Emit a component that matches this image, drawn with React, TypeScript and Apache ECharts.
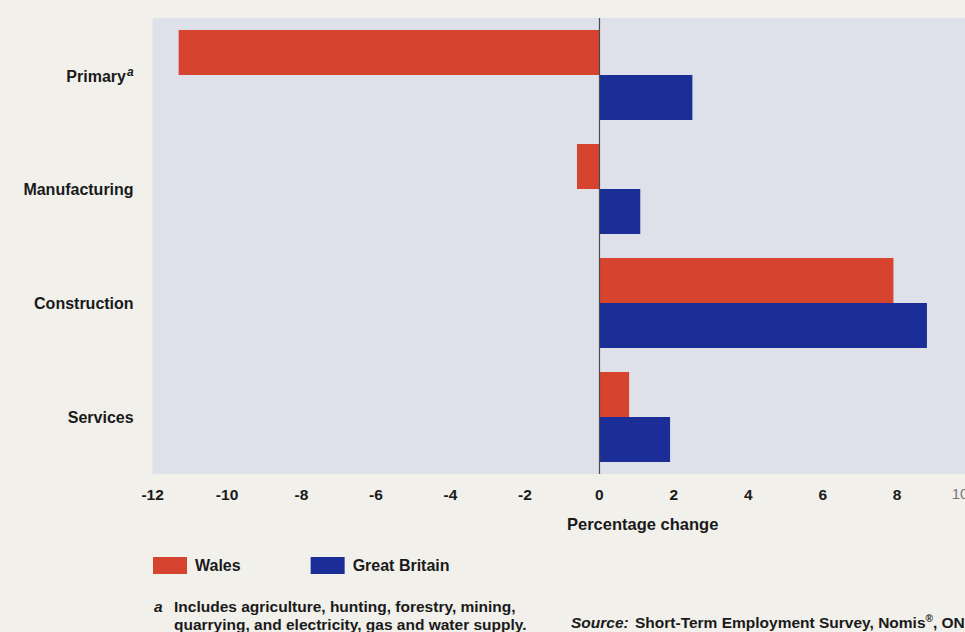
import React, { useEffect, useRef } from "react";
import * as echarts from "echarts";

const categories = ["Primary", "Manufacturing", "Construction", "Services"];
const walesValues = [-11.3, -0.6, 7.9, 0.8];
const gbValues = [2.5, 1.1, 8.8, 1.9];
const seriesNames = ["Wales", "Great Britain"];
const xTicks = { min: -12, max: 10, interval: 2 };

const RED = "#d6432e";
const BLUE = "#1b2d96";
const SANS = "'Liberation Sans', Arial, Helvetica, sans-serif";

export default function App() {
  const ref = useRef<HTMLDivElement>(null);
  useEffect(() => {
    if (!ref.current) return;
    const chart = echarts.init(ref.current, undefined, { renderer: "svg" });
    const noteStyle = { fontSize: 15.5, fontWeight: "bold", fill: "#1a1a1a", fontFamily: SANS, verticalAlign: "middle" };
    chart.setOption({
      animation: false,
      backgroundColor: "#f1f0eb",
      textStyle: { fontFamily: SANS },
      grid: {
        left: 152.6,
        width: 819,
        top: 18,
        bottom: 158,
        show: true,
        backgroundColor: "#dee1e9",
        borderWidth: 0,
        containLabel: false,
        outerBoundsMode: "none",
      },
      legend: {
        left: 153,
        top: 557,
        padding: 0,
        icon: "rect",
        itemWidth: 34,
        itemHeight: 17,
        itemGap: 70,
        textStyle: { fontSize: 16, fontWeight: "bold", color: "#1a1a1a", fontFamily: SANS, padding: [0, 0, 0, 3] },
        data: seriesNames,
        selectedMode: false,
      },
      xAxis: {
        type: "value",
        min: xTicks.min,
        max: xTicks.max,
        interval: xTicks.interval,
        axisLine: { show: false },
        axisTick: { show: false },
        splitLine: { show: false },
        axisLabel: {
          margin: 12,
          fontSize: 15.5,
          fontWeight: "bold",
          color: "#1a1a1a",
          fontFamily: SANS,
          formatter: (v: number) => (v === 10 ? "{t|10}" : String(v)),
          rich: {
            t: { color: "#777", fontWeight: "normal", fontSize: 15, padding: [0, 23, 0, 0] },
          },
        },
      },
      yAxis: {
        type: "category",
        inverse: true,
        data: categories,
        axisLine: { show: false },
        axisTick: { show: false },
        splitLine: { show: false },
        axisLabel: {
          margin: 19,
          fontSize: 16,
          fontWeight: "bold",
          color: "#1a1a1a",
          fontFamily: SANS,
          formatter: (v: string) => (v === "Primary" ? "{b|Primary}{sup|a}" : v),
          rich: {
            b: { fontSize: 16, fontWeight: "bold", color: "#1a1a1a", fontFamily: SANS, verticalAlign: "bottom", lineHeight: 18 },
            sup: { fontSize: 12, fontWeight: "bold", fontStyle: "italic", color: "#1a1a1a", fontFamily: SANS, verticalAlign: "top", lineHeight: 18, padding: [0, 0, 8, 1] },
          },
        },
      },
      series: [
        {
          name: seriesNames[0],
          type: "bar",
          data: walesValues,
          barWidth: 45,
          barGap: "0%",
          itemStyle: { color: RED },
          markLine: {
            silent: true,
            symbol: "none",
            label: { show: false },
            lineStyle: { color: "#4a4a4a", width: 1.2, type: "solid" },
            data: [{ xAxis: 0 }],
          },
        },
        {
          name: seriesNames[1],
          type: "bar",
          data: gbValues,
          barWidth: 45,
          barGap: "0%",
          itemStyle: { color: BLUE },
        },
      ],
      graphic: [
        {
          type: "text",
          left: 567,
          top: 515,
          style: { text: "Percentage change", fontSize: 16.5, fontWeight: "bold", fill: "#1a1a1a", fontFamily: SANS },
        },
        {
          type: "text",
          x: 154,
          y: 606,
          style: { ...noteStyle, text: "a", fontStyle: "italic" },
        },
        {
          type: "text",
          x: 174,
          y: 606,
          style: { ...noteStyle, text: "Includes agriculture, hunting, forestry, mining," },
        },
        {
          type: "text",
          x: 174,
          y: 624,
          style: { ...noteStyle, text: "quarrying, and electricity, gas and water supply." },
        },
        {
          type: "text",
          x: 571,
          y: 622,
          style: { ...noteStyle, text: "Source:", fontStyle: "italic" },
        },
        {
          type: "text",
          x: 635,
          y: 622,
          style: {
            ...noteStyle,
            text: "Short-Term Employment Survey, Nomis{r|®}, ONS",
            rich: {
              r: { fontSize: 10, fontWeight: "bold", fill: "#1a1a1a", fontFamily: SANS, verticalAlign: "top", padding: [0, 0, 8, 0] },
            },
          },
        },
      ],
    });
    return () => chart.dispose();
  }, []);
  return (
    <div
      ref={ref}
      style={{ position: "absolute", left: 0, top: 0, width: 965, height: 632, overflow: "hidden" }}
    />
  );
}
